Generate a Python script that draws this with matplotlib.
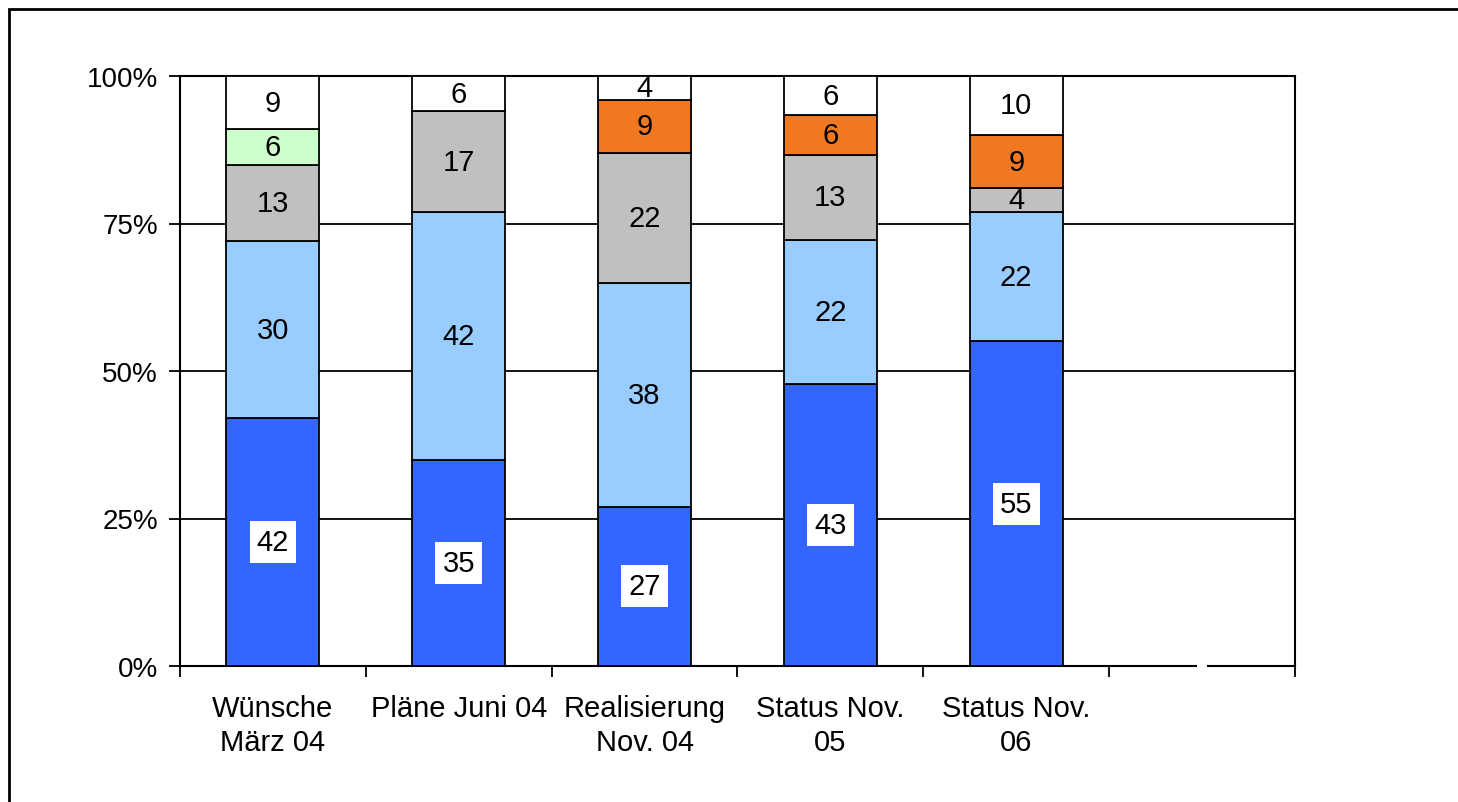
import matplotlib
matplotlib.use('Agg')
import matplotlib.pyplot as plt
import numpy as np
from matplotlib.patches import Rectangle

# data (raw counts, shown as 100% stacked)
kategorien = ['Wünsche\nMärz 04', 'Pläne Juni 04', 'Realisierung\nNov. 04',
              'Status Nov.\n05', 'Status Nov.\n06', '']
dunkelblau = [42, 35, 27, 43, 55, 0]
hellblau = [30, 42, 38, 22, 22, 0]
grau = [13, 17, 22, 13, 4, 0]
gruen = [6, 0, 0, 0, 0, 0]
orange = [0, 0, 9, 6, 9, 0]
weiss = [9, 6, 4, 6, 10, 0]
y_ticks = [0, 25, 50, 75, 100]

serien = [
    (dunkelblau, '#3366FF'),
    (hellblau, '#99CCFF'),
    (grau, '#C0C0C0'),
    (gruen, '#CCFFCC'),
    (orange, '#F07820'),
    (weiss, '#FFFFFF'),
]

plt.rcParams['font.family'] = ['Liberation Sans', 'DejaVu Sans']
fs = 21

fig = plt.figure(figsize=(14.58, 8.03), dpi=100)
ax = fig.add_axes([180 / 1458, 136 / 803, 1115 / 1458, 590 / 803])

x = np.arange(len(kategorien))
summe = np.array([sum(s[0][i] for s in serien) for i in range(len(x))], dtype=float)
summe[summe == 0] = 1
boden = np.zeros(len(x))

for idx, (werte, farbe) in enumerate(serien):
    werte = np.array(werte, dtype=float)
    pct = werte / summe * 100
    ax.bar(x, pct, bottom=boden, width=0.5, color=farbe, edgecolor='black',
           linewidth=1.3, zorder=3)
    for i in range(len(x)):
        if werte[i] > 0:
            mitte = boden[i] + pct[i] / 2
            if idx == 0:
                ax.text(x[i], mitte, f'{int(werte[i])}', ha='center', va='center',
                        fontsize=fs, zorder=5,
                        bbox=dict(facecolor='white', edgecolor='none', pad=5))
            else:
                ax.text(x[i], mitte, f'{int(werte[i])}', ha='center', va='center',
                        fontsize=fs, zorder=5)
    boden = boden + pct

# gap in the axis line at the empty category
ax.text(x[-1], 0, ' ', ha='center', va='center', fontsize=6, zorder=10,
        clip_on=False, bbox=dict(facecolor='white', edgecolor='none', pad=2.5))

ax.set_xlim(-0.5, len(x) - 0.5)
ax.set_ylim(0, 100)
ax.set_yticks(y_ticks)
ax.set_yticklabels([f'{t}%' for t in y_ticks], fontsize=20)
ax.yaxis.grid(True, color='black', linewidth=1.3, zorder=1)
ax.set_axisbelow(True)

ax.set_xticks(x[:-1])
ax.set_xticklabels(kategorien[:-1], fontsize=fs, linespacing=1.3)
ax.set_xticks(np.arange(-0.5, len(x)), minor=True)
ax.tick_params(axis='x', which='major', length=0, pad=20)
ax.tick_params(axis='x', which='minor', length=8, width=1.3, direction='out')
ax.tick_params(axis='y', length=8, width=1.3, direction='out', pad=8)

for sp in ax.spines.values():
    sp.set_linewidth(1.5)
    sp.set_color('black')

# outer chart border (only top and left visible)
fig.patches.append(Rectangle((9 / 1458, -0.2), 1.5, 1.2 - 10 / 803,
                             transform=fig.transFigure, fill=False,
                             edgecolor='black', linewidth=2))

fig.savefig('out.png', dpi=100)
